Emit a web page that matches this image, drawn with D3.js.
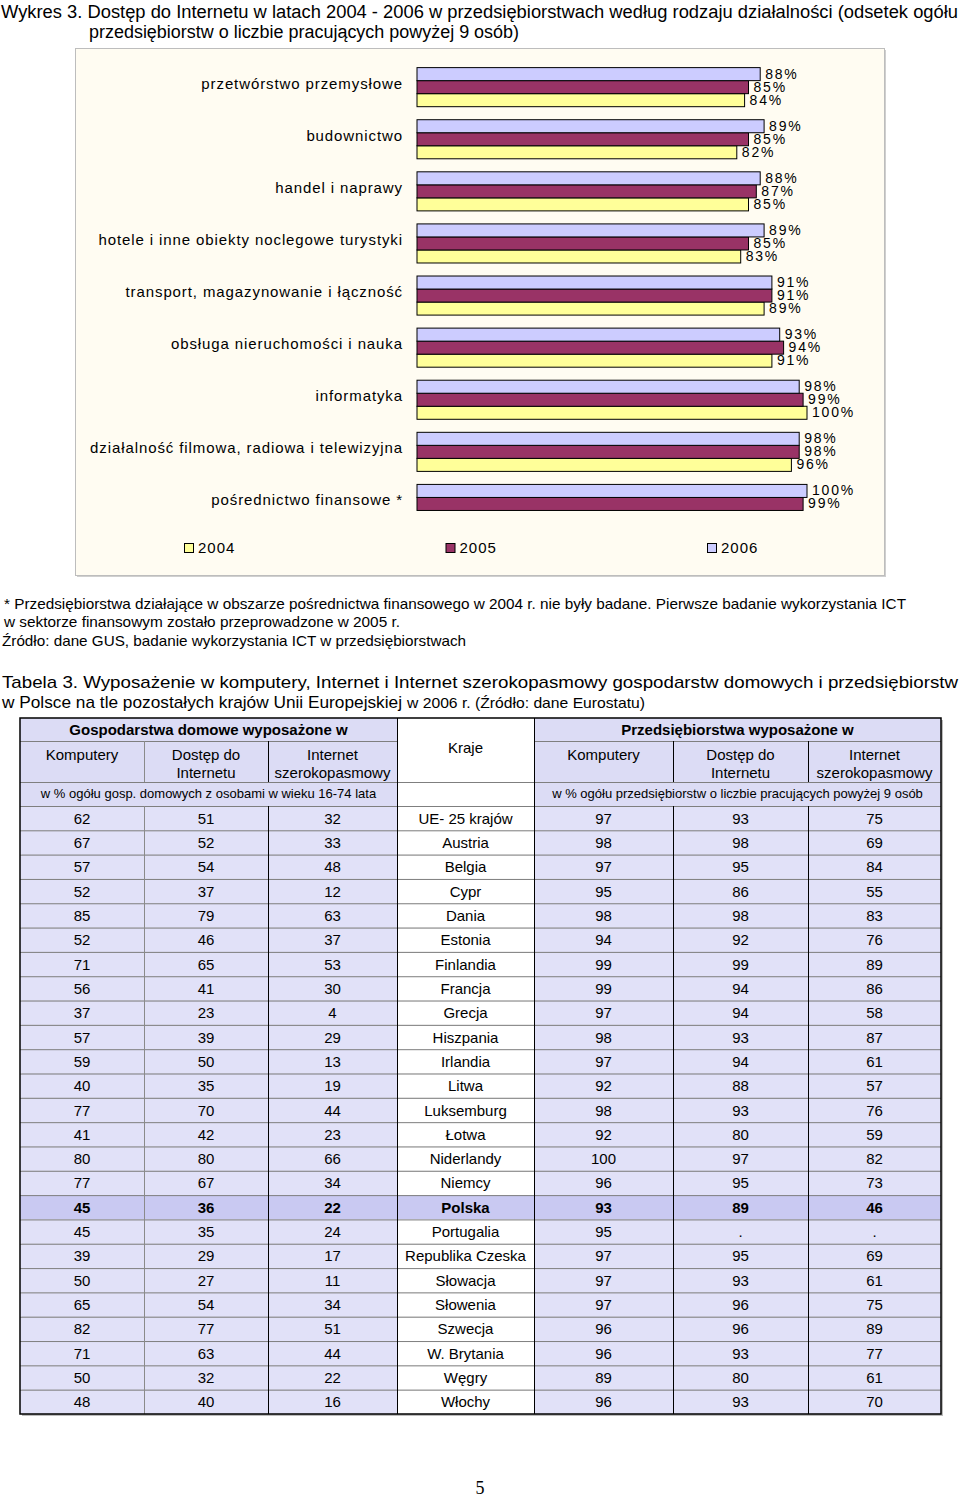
<!DOCTYPE html>
<html>
<head>
<meta charset="utf-8">
<script src="https://cdn.jsdelivr.net/npm/d3@7"></script>
<style>
body { margin: 0; background: #fff; }
svg { display: block; }
</style>
</head>
<body>
<div class="container"></div>
<script>
// ---- chart data (Wykres 3) ----
const categories = [
	'przetwórstwo przemysłowe',
	'budownictwo',
	'handel i naprawy',
	'hotele i inne obiekty noclegowe turystyki',
	'transport, magazynowanie i łączność',
	'obsługa nieruchomości i nauka',
	'informatyka',
	'działalność filmowa, radiowa i telewizyjna',
	'pośrednictwo finansowe *'
];
const years = ['2004', '2005', '2006'];
const v2004 = [84, 82, 85, 83, 89, 91, 100, 96, null];
const v2005 = [85, 85, 87, 85, 91, 94, 99, 98, 99];
const v2006 = [88, 89, 88, 89, 91, 93, 98, 98, 100];

// ---- table data (Tabela 3) ----
const countries = ['UE- 25 krajów', 'Austria', 'Belgia', 'Cypr', 'Dania', 'Estonia', 'Finlandia', 'Francja',
	'Grecja', 'Hiszpania', 'Irlandia', 'Litwa', 'Luksemburg', 'Łotwa', 'Niderlandy', 'Niemcy', 'Polska',
	'Portugalia', 'Republika Czeska', 'Słowacja', 'Słowenia', 'Szwecja', 'W. Brytania', 'Węgry', 'Włochy'];
const hhComp  = [62, 67, 57, 52, 85, 52, 71, 56, 37, 57, 59, 40, 77, 41, 80, 77, 45, 45, 39, 50, 65, 82, 71, 50, 48];
const hhNet   = [51, 52, 54, 37, 79, 46, 65, 41, 23, 39, 50, 35, 70, 42, 80, 67, 36, 35, 29, 27, 54, 77, 63, 32, 40];
const hhBroad = [32, 33, 48, 12, 63, 37, 53, 30, 4, 29, 13, 19, 44, 23, 66, 34, 22, 24, 17, 11, 34, 51, 44, 22, 16];
const entComp  = [97, 98, 97, 95, 98, 94, 99, 99, 97, 98, 97, 92, 98, 92, 100, 96, 93, 95, 97, 97, 97, 96, 96, 89, 96];
const entNet   = [93, 98, 95, 86, 98, 92, 99, 94, 94, 93, 94, 88, 93, 80, 97, 95, 89, '.', 95, 93, 96, 96, 93, 80, 93];
const entBroad = [75, 69, 84, 55, 83, 76, 89, 86, 58, 87, 61, 57, 76, 59, 82, 73, 46, '.', 69, 61, 75, 89, 77, 61, 70];
const subHeads = [['Komputery'], ['Dostęp do', 'Internetu'], ['Internet', 'szerokopasmowy']];

const svg = d3.select('.container')
	.append('svg')
	.attr('width', 960)
	.attr('height', 1497);

const FONT = '"Liberation Sans", Arial, sans-serif';

// stretched/justified text lines like in the document
function docLine(txt, x, y, size, len, weight) {
	const t = svg.append('text')
		.attr('x', x).attr('y', y)
		.attr('font-family', FONT)
		.attr('font-size', size)
		.attr('font-weight', weight || 'normal')
		.text(txt);
	if (len) t.attr('textLength', len).attr('lengthAdjust', 'spacingAndGlyphs');
	return t;
}

docLine('Wykres 3. Dostęp do Internetu w latach 2004 - 2006 w przedsiębiorstwach według rodzaju działalności (odsetek ogółu', 1, 18, 18, 957);
docLine('przedsiębiorstw o liczbie pracujących powyżej 9 osób)', 89, 38, 18, 430);

// chart frame
svg.append('rect').attr('x', 77).attr('y', 50).attr('width', 809).attr('height', 527).attr('fill', '#cfcfcf');
svg.append('rect').attr('x', 75.5).attr('y', 48.5).attr('width', 809).attr('height', 527)
	.attr('fill', '#FFFCF2').attr('stroke', '#bdbdbd');

const x = d3.scaleLinear().domain([0, 100]).range([417, 807]);
const y = d3.scaleBand().domain(categories).range([61.1, 530]).paddingInner(0.25).paddingOuter(0.125);
// top bar is 2006, like Excel draws reversed series
const ySub = d3.scaleBand().domain(['2006', '2005', '2004']).range([0, y.bandwidth()]);
const colors = { '2004': '#FFFF99', '2005': '#993366', '2006': '#CCCCFF' };
const seriesVals = { '2004': v2004, '2005': v2005, '2006': v2006 };

const bars = [];
categories.forEach(function(c, i) {
	years.forEach(function(yr) {
		const v = seriesVals[yr][i];
		if (v !== null) bars.push({ cat: c, year: yr, value: v });
	});
});

const gBars = svg.append('g');
gBars.selectAll('rect')
	.data(bars)
	.join('rect')
	.attr('x', x(0))
	.attr('y', d => y(d.cat) + ySub(d.year))
	.attr('width', d => x(d.value) - x(0))
	.attr('height', ySub.bandwidth())
	.attr('fill', d => colors[d.year])
	.attr('stroke', '#000')
	.attr('stroke-width', 1);

gBars.selectAll('text')
	.data(bars)
	.join('text')
	.attr('x', d => x(d.value) + 5)
	.attr('y', d => y(d.cat) + ySub(d.year) + ySub.bandwidth() / 2 + 4.5)
	.attr('font-family', FONT)
	.attr('font-size', 14)
	.attr('letter-spacing', 1.8)
	.text(d => d.value + '%');

// category axis labels (no axis line, like the original)
svg.append('g')
	.selectAll('text')
	.data(categories)
	.join('text')
	.attr('x', 403)
	.attr('y', d => y(d) + y.bandwidth() / 2 + 1.5)
	.attr('text-anchor', 'end')
	.attr('font-family', FONT)
	.attr('font-size', 15)
	.attr('letter-spacing', 0.9)
	.text(d => d);

// legend
const lx = d3.scalePoint().domain(years).range([184, 707]);
const leg = svg.append('g').selectAll('g').data(years).join('g')
	.attr('transform', d => 'translate(' + lx(d) + ',543)');
leg.append('rect').attr('x', 0.5).attr('y', 0.5).attr('width', 9).attr('height', 9)
	.attr('fill', d => colors[d]).attr('stroke', '#000');
leg.append('text').attr('x', 14).attr('y', 10)
	.attr('font-family', FONT).attr('font-size', 15).attr('letter-spacing', 1)
	.text(d => d);

// notes
docLine('* Przedsiębiorstwa działające w obszarze pośrednictwa finansowego w 2004 r. nie były badane. Pierwsze badanie wykorzystania ICT', 4, 609, 15, 902);
docLine('w sektorze finansowym zostało przeprowadzone w 2005 r.', 4, 627, 15, 396);
docLine('Źródło: dane GUS, badanie wykorzystania ICT w przedsiębiorstwach', 2, 646, 15, 464);
docLine('Tabela 3. Wyposażenie w komputery, Internet i Internet szerokopasmowy gospodarstw domowych i przedsiębiorstw', 2, 688, 17, 956);
docLine('w Polsce na tle pozostałych krajów Unii Europejskiej', 2, 708, 17, 400);
docLine('w 2006 r. (Źródło: dane Eurostatu)', 407, 708, 15, 238);

// ---- table ----
const colX = [20, 144, 268, 397, 534, 673, 808, 941];
const cols = [hhComp, hhNet, hhBroad, countries, entComp, entNet, entBroad];
const rowY = d3.scaleBand().domain(countries).range([806, 1414]);
const tTop = 718, h1 = 741, h2 = 782, h3 = 806, tBottom = 1414;
const LAV = '#E1E1F8', LAV_HEAD = '#DCDCF5', LAV_PL = '#C9C9F2';

const tbl = svg.append('g');
// shadow
tbl.append('rect').attr('x', colX[0] + 2).attr('y', tTop + 2).attr('width', colX[7] - colX[0]).attr('height', tBottom - tTop)
	.attr('fill', '#bbb');
// header backgrounds
tbl.append('rect').attr('x', colX[0]).attr('y', tTop).attr('width', colX[3] - colX[0]).attr('height', h3 - tTop).attr('fill', LAV_HEAD);
tbl.append('rect').attr('x', colX[3]).attr('y', tTop).attr('width', colX[4] - colX[3]).attr('height', h3 - tTop).attr('fill', '#fff');
tbl.append('rect').attr('x', colX[4]).attr('y', tTop).attr('width', colX[7] - colX[4]).attr('height', h3 - tTop).attr('fill', LAV_HEAD);

// data cells
const cells = [];
countries.forEach(function(c, r) {
	cols.forEach(function(arr, ci) {
		cells.push({ row: c, col: ci, text: arr[r] });
	});
});
tbl.selectAll('rect.cell')
	.data(cells)
	.join('rect')
	.attr('class', 'cell')
	.attr('x', d => colX[d.col])
	.attr('y', d => rowY(d.row))
	.attr('width', d => colX[d.col + 1] - colX[d.col])
	.attr('height', rowY.bandwidth())
	.attr('fill', d => d.row === 'Polska' ? LAV_PL : (d.col === 3 ? '#fff' : LAV));

tbl.selectAll('text.cell')
	.data(cells)
	.join('text')
	.attr('class', 'cell')
	.attr('x', d => (colX[d.col] + colX[d.col + 1]) / 2)
	.attr('y', d => rowY(d.row) + rowY.bandwidth() / 2 + 5.5)
	.attr('text-anchor', 'middle')
	.attr('font-family', FONT)
	.attr('font-size', 15)
	.attr('font-weight', d => d.row === 'Polska' ? 'bold' : 'normal')
	.text(d => d.text);

// horizontal lines
const hl = tbl.append('g').attr('stroke', '#7f7f7f').attr('stroke-width', 1);
rowY.domain().forEach(function(c) {
	hl.append('line').attr('x1', colX[0]).attr('x2', colX[7]).attr('y1', rowY(c) + 0.5).attr('y2', rowY(c) + 0.5);
});
hl.append('line').attr('x1', colX[0]).attr('x2', colX[3]).attr('y1', h1 + 0.5).attr('y2', h1 + 0.5);
hl.append('line').attr('x1', colX[4]).attr('x2', colX[7]).attr('y1', h1 + 0.5).attr('y2', h1 + 0.5);
hl.append('line').attr('x1', colX[0]).attr('x2', colX[7]).attr('y1', h2 + 0.5).attr('y2', h2 + 0.5);

// vertical lines
const vl = tbl.append('g').attr('stroke-width', 1);
[1, 2, 5, 6].forEach(function(i) {
	const col = i === 1 ? '#8a8a8a' : '#000';
	vl.append('line').attr('x1', colX[i] + 0.5).attr('x2', colX[i] + 0.5).attr('y1', h1).attr('y2', h2).attr('stroke', col);
	vl.append('line').attr('x1', colX[i] + 0.5).attr('x2', colX[i] + 0.5).attr('y1', h3).attr('y2', tBottom).attr('stroke', col);
});
[3, 4].forEach(function(i) {
	vl.append('line').attr('x1', colX[i] + 0.5).attr('x2', colX[i] + 0.5).attr('y1', tTop).attr('y2', tBottom).attr('stroke', '#000');
});
tbl.append('rect').attr('x', colX[0]).attr('y', tTop).attr('width', colX[7] - colX[0]).attr('height', tBottom - tTop)
	.attr('fill', 'none').attr('stroke', '#000').attr('stroke-width', 1.5);

// header texts
function headText(txt, cx, cy, size, weight) {
	tbl.append('text').attr('x', cx).attr('y', cy)
		.attr('text-anchor', 'middle')
		.attr('font-family', FONT).attr('font-size', size).attr('font-weight', weight || 'normal')
		.text(txt);
}
headText('Gospodarstwa domowe wyposażone w', (colX[0] + colX[3]) / 2, 735, 15, 'bold');
headText('Przedsiębiorstwa wyposażone w', (colX[4] + colX[7]) / 2, 735, 15, 'bold');
headText('Kraje', (colX[3] + colX[4]) / 2, 753, 15);
[0, 4].forEach(function(off) {
	subHeads.forEach(function(lines, i) {
		const cx = (colX[off + i] + colX[off + i + 1]) / 2;
		lines.forEach(function(l, k) {
			headText(l, cx, 760 + k * 18, 15);
		});
	});
});
headText('w % ogółu gosp. domowych z osobami w wieku 16-74 lata', (colX[0] + colX[3]) / 2, 798, 13);
headText('w % ogółu przedsiębiorstw o liczbie pracujących powyżej 9 osób', (colX[4] + colX[7]) / 2, 798, 13);

// page number
svg.append('text').attr('x', 480).attr('y', 1494).attr('text-anchor', 'middle')
	.attr('font-family', '"Liberation Serif", "Times New Roman", serif').attr('font-size', 18)
	.text('5');
</script>
</body>
</html>
